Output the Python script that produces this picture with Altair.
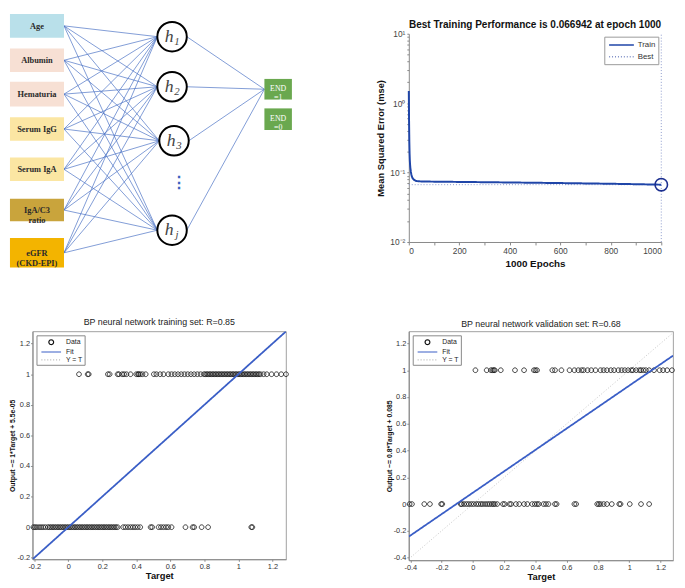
import altair as alt
import pandas as pd

# ---- layout anchors (page pixels of panel plot-area origins) ----
COL0, ROW0 = 31, 28
PW0, PH0 = 258, 212          # first column width / first row height
COL_SPACING, ROW_SPACING = 125, 91

# ---------------- Panel (a): network diagram, positions in page pixels ----------------
input_labels = ["Age", "Albumin", "Hematuria", "Serum IgG", "Serum IgA", "IgA/C3\nratio", "eGFR\n(CKD-EPI)"]
input_top = [8, 43, 77, 113, 154, 196, 236]
input_bottom = [32, 67, 102, 137, 178, 219, 266]
input_fill = ["#b9e0ea", "#f7e0d4", "#f7e0d4", "#fbe6a3", "#fbe6a3", "#c9a43c", "#f3b400"]
input_left = [8, 8, 8, 8, 8, 8, 8]
input_right = [63, 63, 63, 63, 63, 63, 63]

hidden_x = [173, 173, 175, 173]
hidden_y = [31, 82, 137, 228]
hidden_sub = ["1", "2", "3", "j"]
hidden_r = 15

output_labels = ["END\n=1", "END\n=0"]
output_left = [267, 267]
output_right = [295, 295]
output_top = [74, 104]
output_bottom = [95, 126]
dots_x = [180]
dots_y = [180]

# ---------------- Panel (b): training performance ----------------
epochs = [0, 1, 2, 3, 4, 5, 6, 8, 10, 12, 15, 20, 25, 30, 40, 50, 75, 100, 150,
          200, 300, 400, 500, 600, 700, 800, 900, 1000]
mse = [1.5, 0.55, 0.28, 0.19, 0.15, 0.13, 0.118, 0.103, 0.094, 0.088, 0.083, 0.079,
       0.077, 0.0755, 0.0748, 0.0745, 0.0742, 0.0740, 0.0737, 0.0733, 0.0727, 0.0720,
       0.0713, 0.0706, 0.0698, 0.0690, 0.0680, 0.066942]
best_epoch = 1000
best_mse = 0.066942
epoch_ticks = [0, 100, 200, 300, 400, 500, 600, 700, 800, 900, 1000]
mse_ticks = [0.01, 0.02, 0.03, 0.04, 0.05, 0.06, 0.07, 0.08, 0.09,
             0.1, 0.2, 0.3, 0.4, 0.5, 0.6, 0.7, 0.8, 0.9,
             1, 2, 3, 4, 5, 6, 7, 8, 9, 10]

# ---------------- Panel (c): training set regression ----------------
train_out1 = [0.063, 0.114, 0.12, 0.233, 0.243, 0.29, 0.298, 0.317, 0.328, 0.342, 0.366, 0.40,
              0.41, 0.414, 0.423, 0.436, 0.455, 0.503, 0.518, 0.54, 0.56, 0.588, 0.607, 0.626,
              0.645, 0.664, 0.683, 0.702, 0.721, 0.74, 0.759, 0.778, 0.797, 0.806, 0.815, 0.824,
              0.833, 0.842, 0.851, 0.86, 0.869, 0.878, 0.887, 0.896, 0.905, 0.914, 0.923, 0.932,
              0.941, 0.95, 0.959, 0.968, 0.977, 0.986, 0.995, 1.004, 1.013, 1.022, 1.031, 1.04,
              1.049, 1.058, 1.067, 1.076, 1.085, 1.094, 1.103, 1.112, 1.121, 1.13, 1.148, 1.167,
              1.195, 1.224, 1.252, 1.28]
train_out0 = [-0.205, -0.195, -0.185, -0.172, -0.16, -0.148, -0.135, -0.12, -0.11, -0.1, -0.09,
              -0.08, -0.07, -0.06, -0.05, -0.04, -0.03, -0.02, -0.01, 0.0, 0.01, 0.02, 0.03, 0.04,
              0.05, 0.06, 0.07, 0.08, 0.09, 0.1, 0.11, 0.12, 0.13, 0.14, 0.15, 0.16, 0.17, 0.18,
              0.19, 0.2, 0.21, 0.22, 0.23, 0.24, 0.25, 0.26, 0.27, 0.28, 0.29, 0.323, 0.336, 0.351,
              0.366, 0.38, 0.393, 0.408, 0.423, 0.484, 0.493, 0.531, 0.545, 0.56, 0.575, 0.588,
              0.607, 0.689, 0.731, 0.74, 0.784, 0.822, 1.076, 1.082]
train_fit_x = [-0.21, 1.28]
train_fit_y = [-0.21, 1.28]
train_id_x = [-0.21, 1.28]
train_id_y = [-0.21, 1.28]
train_ticks = [-0.2, 0, 0.2, 0.4, 0.6, 0.8, 1, 1.2]

# ---------------- Panel (d): validation set regression ----------------
val_out1 = [0.016, 0.088, 0.115, 0.126, 0.134, 0.14, 0.178, 0.269, 0.327, 0.39, 0.40, 0.41,
            0.508, 0.525, 0.566, 0.618, 0.649, 0.674, 0.695, 0.708, 0.733, 0.757, 0.784, 0.816,
            0.836, 0.857, 0.882, 0.903, 0.93, 0.951, 0.971, 0.992, 1.013, 1.023, 1.044, 1.065,
            1.075, 1.09, 1.106, 1.127, 1.158, 1.194, 1.216, 1.242, 1.273]
val_out0 = [-0.405, -0.39, -0.311, -0.275, -0.203, -0.196, -0.078, -0.072, -0.057, -0.041,
            -0.026, -0.011, 0.005, 0.022, 0.036, 0.051, 0.063, 0.078, 0.092, 0.105, 0.119, 0.13,
            0.14, 0.155, 0.192, 0.203, 0.234, 0.244, 0.275, 0.296, 0.327, 0.348, 0.379, 0.396,
            0.41, 0.421, 0.452, 0.467, 0.483, 0.525, 0.535, 0.649, 0.66, 0.795, 0.805, 0.816,
            0.836, 0.857, 0.888, 0.936, 0.944, 1.003, 1.075, 1.127]
val_fit_x = [-0.41, 1.28]
val_fit_y = [-0.243, 1.109]
val_id_x = [-0.41, 1.28]
val_id_y = [-0.41, 1.28]
val_ticks = [-0.4, -0.2, 0, 0.2, 0.4, 0.6, 0.8, 1, 1.2]

FONT = "Liberation Sans"
SERIF = "Liberation Serif"
LINE_BLUE = "#4a72c4"

# ======== diagram ========
xs = alt.Scale(domain=[COL0, COL0 + PW0], nice=False, zero=False)
ys = alt.Scale(domain=[ROW0, ROW0 + PH0], nice=False, zero=False, reverse=True)

box_df = pd.DataFrame({"label": input_labels, "x0": input_left, "x1": input_right,
                       "y0": input_top, "y1": input_bottom, "fill": input_fill})
box_df["xc"] = (box_df["x0"] + box_df["x1"]) / 2
box_df["yc"] = (box_df["y0"] + box_df["y1"]) / 2

hid_df = pd.DataFrame({"x": hidden_x, "y": hidden_y, "sub": hidden_sub})
out_df = pd.DataFrame({"label": output_labels, "x0": output_left, "x1": output_right,
                       "y0": output_top, "y1": output_bottom})
out_df["xc"] = (out_df["x0"] + out_df["x1"]) / 2
out_df["yc"] = (out_df["y0"] + out_df["y1"]) / 2

edges = []
for _, b in box_df.iterrows():
    for _, h in hid_df.iterrows():
        edges.append({"x0": b["x1"], "y0": b["yc"], "x1": h["x"] - hidden_r, "y1": h["y"]})
o1 = out_df.iloc[0]
for _, h in hid_df.iterrows():
    edges.append({"x0": h["x"] + hidden_r, "y0": h["y"], "x1": o1["x0"], "y1": o1["yc"]})
edge_df = pd.DataFrame(edges)


def dx_(f):
    return alt.X(f, scale=xs, axis=None)


def dy_(f):
    return alt.Y(f, scale=ys, axis=None)


edge_layer = alt.Chart(edge_df).mark_rule(color=LINE_BLUE, strokeWidth=0.7).encode(
    x=dx_("x0:Q"), x2="x1:Q", y=dy_("y0:Q"), y2="y1:Q")
box_layer = alt.Chart(box_df).mark_rect().encode(
    x=dx_("x0:Q"), x2="x1:Q", y=dy_("y0:Q"), y2="y1:Q", fill=alt.Fill("fill:N", scale=None))
box_text = alt.Chart(box_df).mark_text(font=SERIF, fontSize=8.5, fontWeight="bold", lineHeight=10,
                                       color="#2a2a2a", lineBreak="\n", baseline="middle").encode(
    x=dx_("xc:Q"), y=dy_("yc:Q"), text="label:N")
node_layer = alt.Chart(hid_df).mark_point(shape="circle", size=900, filled=True, fill="white",
                                          stroke="black", strokeWidth=2, opacity=1).encode(
    x=dx_("x:Q"), y=dy_("y:Q"))
h_text = alt.Chart(hid_df).mark_text(font=SERIF, fontSize=18, fontStyle="italic", color="#444",
                                     dx=-3, baseline="middle", text="h").encode(
    x=dx_("x:Q"), y=dy_("y:Q"))
sub_text = alt.Chart(hid_df).mark_text(font=SERIF, fontSize=11, fontStyle="italic", color="#444",
                                       dx=5, dy=5, baseline="middle").encode(
    x=dx_("x:Q"), y=dy_("y:Q"), text="sub:N")
dots_layer = alt.Chart(pd.DataFrame({"x": dots_x, "y": dots_y})).mark_text(
    text="⋮", fontSize=16, fontWeight="bold", color="#3b64c0", baseline="middle").encode(
    x=dx_("x:Q"), y=dy_("y:Q"))
out_layer = alt.Chart(out_df).mark_rect(color="#6aa84f").encode(
    x=dx_("x0:Q"), x2="x1:Q", y=dy_("y0:Q"), y2="y1:Q")
out_text = alt.Chart(out_df).mark_text(font=SERIF, fontSize=8, color="white", lineHeight=9,
                                       lineBreak="\n", baseline="middle").encode(
    x=dx_("xc:Q"), y=dy_("yc:Q"), text="label:N")

diagram = alt.layer(edge_layer, box_layer, box_text, node_layer, h_text, sub_text,
                    dots_layer, out_layer, out_text).properties(
    width=PW0, height=PH0, view=alt.ViewBackground(stroke="transparent"))

# ======== MSE plot ========
LINE_SHAPE_M = "M-2.8,0H2.8"
mse_leg = alt.Legend(title=None, orient="top-right", offset=3, strokeColor="#999",
                     fillColor="white", padding=3, labelFontSize=8, labelFont=FONT,
                     symbolType=LINE_SHAPE_M, symbolSize=81, symbolStrokeWidth=1.6,
                     symbolOffset=9, labelOffset=11, rowPadding=2, labelColor="#333")
mcol = alt.Color("series:N", scale=alt.Scale(domain=["Train", "Best"], range=["#1f45a8", "#7f8fc6"]),
                 legend=mse_leg)
mdash = alt.StrokeDash("series:N", scale=alt.Scale(domain=["Train", "Best"], range=[[1, 0], [1, 2]]),
                       legend=mse_leg)
mx = alt.X("epoch:Q", scale=alt.Scale(domain=[0, 1000], nice=False, zero=False),
           axis=alt.Axis(values=epoch_ticks, format="d", title="1000 Epochs", grid=False, titleFontSize=10,
                         titleFontWeight="bold", labelFontSize=8.5, tickSize=3, labelPadding=2,
                         titlePadding=3, labelColor="#444", domainColor="#888", tickColor="#888"))
label_expr = ("datum.value == 10 ? '10¹' : datum.value == 1 ? '10⁰' : "
              "datum.value == 0.1 ? '10⁻¹' : datum.value == 0.01 ? '10⁻²' : ''")
my = alt.Y("mse:Q", scale=alt.Scale(type="log", domain=[0.01, 10], nice=False),
           axis=alt.Axis(values=mse_ticks, labelExpr=label_expr, labelOverlap=False,
                         title="Mean Squared Error  (mse)", grid=False, titleFontSize=9.5,
                         titleFontWeight="bold", labelFontSize=8.5, tickSize=2, labelPadding=2,
                         titlePadding=4, labelColor="#444", domainColor="#888", tickColor="#888"))

train_df = pd.DataFrame({"epoch": epochs, "mse": mse, "series": "Train"})
best_h_df = pd.DataFrame({"epoch": [0, best_epoch], "mse": [best_mse, best_mse], "series": "Best"})
best_v_df = pd.DataFrame({"epoch": [best_epoch, best_epoch], "mse": [0.01, 10], "series": "Best"})
best_pt_df = pd.DataFrame({"epoch": [best_epoch], "mse": [best_mse]})

l_best_h = alt.Chart(best_h_df).mark_line(strokeWidth=0.9).encode(x=mx, y=my, color=mcol, strokeDash=mdash)
l_best_v = alt.Chart(best_v_df).mark_line(strokeWidth=0.9).encode(x=mx, y=my, color=mcol, strokeDash=mdash)
l_train = alt.Chart(train_df).mark_line(strokeWidth=2).encode(x=mx, y=my, color=mcol, strokeDash=mdash)
l_pt = alt.Chart(best_pt_df).mark_point(shape="circle", size=160, filled=False, color="#1c2f8f",
                                        strokeWidth=1.6, opacity=1).encode(x=mx, y=my)

mse_chart = alt.layer(l_best_h, l_best_v, l_train, l_pt).properties(
    width=257, height=PH0,
    title=alt.TitleParams("Best Training Performance is 0.066942 at epoch 1000", fontSize=10.2,
                          fontWeight="bold", font=FONT, offset=0, frame="group", color="#111"),
    view=alt.ViewBackground(stroke="transparent"))

# ======== regression panels ========
DATA_SHAPE = "M0.6,0 A0.6,0.6 0 1,1 -0.6,0 A0.6,0.6 0 1,1 0.6,0 Z"
LINE_SHAPE = "M-2.5,0H2.5"
SERIES = ["Data", "Fit", "Y = T"]


def reg_panel(out1, out0, fit_x, fit_y, id_x, id_y, xdom, ydom, ticks_x, ticks_y,
              title, ytitle, w, h, title_offset):
    leg = alt.Legend(title=None, orient="top-left", offset=4, strokeColor="#888",
                     fillColor="white", padding=2, labelFontSize=7, labelFont=FONT,
                     symbolSize=64, symbolStrokeWidth=1.2, rowPadding=0, symbolOffset=8,
                     labelOffset=10, labelColor="#222")
    col = alt.Color("series:N", scale=alt.Scale(domain=SERIES, range=["#111111", "#3a5ec6", "#b5b5b5"]),
                    legend=leg)
    shp = alt.Shape("series:N", scale=alt.Scale(domain=SERIES, range=[DATA_SHAPE, LINE_SHAPE, LINE_SHAPE]),
                    legend=leg)
    dsh = alt.StrokeDash("series:N", scale=alt.Scale(domain=SERIES, range=[[1, 0], [1, 0], [1, 2]]),
                         legend=leg)
    lab = "replace(format(datum.value, '~g'), '\u2212', '-')"
    x = alt.X("target:Q", scale=alt.Scale(domain=xdom, nice=False, zero=False),
              axis=alt.Axis(values=ticks_x, labelExpr=lab, title="Target", grid=False,
                            titleFontSize=9.5, labelFontSize=7.5, tickSize=2, labelPadding=1,
                            titlePadding=1, labelColor="#333", domainColor="#888", tickColor="#888"))
    y = alt.Y("output:Q", scale=alt.Scale(domain=ydom, nice=False, zero=False),
              axis=alt.Axis(values=ticks_y, labelExpr=lab, title=ytitle, grid=False,
                            titleFontSize=7, labelFontSize=7.5, tickSize=2, labelPadding=1,
                            titlePadding=1, labelColor="#333", domainColor="#888", tickColor="#888"))
    pts_df = pd.DataFrame({"target": out1 + out0,
                           "output": [1] * len(out1) + [0] * len(out0),
                           "series": "Data"})
    ln_df = pd.DataFrame({"target": fit_x + id_x, "output": fit_y + id_y,
                          "series": ["Fit", "Fit", "Y = T", "Y = T"],
                          "sw": [1.8, 1.8, 0.8, 0.8]})
    lines = alt.Chart(ln_df).mark_line(clip=True).encode(
        x=x, y=y, color=col, strokeDash=dsh, strokeWidth=alt.StrokeWidth("sw:Q", scale=None))
    pts = alt.Chart(pts_df).mark_point(filled=False, size=64, strokeWidth=0.8, opacity=1).encode(
        x=x, y=y, color=col, shape=shp)
    return alt.layer(lines.transform_filter("datum.series == 'Y = T'"), pts,
                     lines.transform_filter("datum.series == 'Fit'")).properties(
        width=w, height=h,
        title=alt.TitleParams(title, fontSize=9, fontWeight="normal", font=FONT,
                              offset=title_offset, color="#222"),
        view=alt.ViewBackground(stroke="#888", strokeWidth=0.8))


train_chart = reg_panel(train_out1, train_out0, train_fit_x, train_fit_y, train_id_x, train_id_y,
                        [-0.21, 1.28], [-0.21, 1.28], train_ticks, train_ticks,
                        "BP neural network training set: R=0.85", "Output ~= 1*Target + 5.5e-05",
                        PW0, 232, 5)
val_chart = reg_panel(val_out1, val_out0, val_fit_x, val_fit_y, val_id_x, val_id_y,
                      [-0.41, 1.28], [-0.42, 1.29], val_ticks, val_ticks,
                      "BP neural network validation set: R=0.68", "Output ~= 0.8*Target + 0.085",
                      269, 233, 2)

chart = alt.concat(diagram, mse_chart, train_chart, val_chart, columns=2, align="none",
                   bounds="flush", spacing={"row": ROW_SPACING, "column": COL_SPACING}).resolve_scale(
    color="independent", shape="independent", strokeDash="independent"
).resolve_legend(
    color="independent", shape="independent", strokeDash="independent"
).properties(
    padding=0
).configure_view(stroke="transparent").configure(font=FONT).configure_axis(
    labelFont=FONT, titleFont=FONT, titleColor="#111")

chart.save("out.html", embed_options={"renderer": "svg", "actions": False})
